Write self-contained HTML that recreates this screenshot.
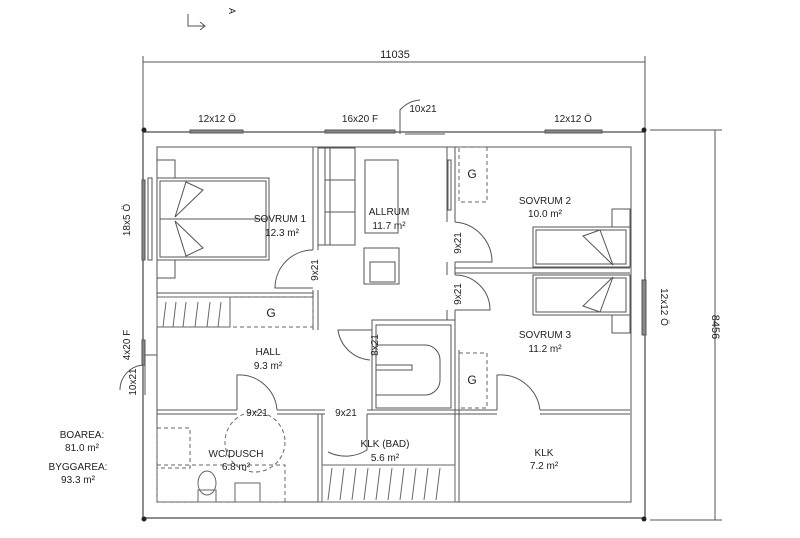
<!DOCTYPE html>
<html><head><meta charset="utf-8"><style>
html,body{margin:0;padding:0;background:#fff}
svg{display:block}
text{font-family:"Liberation Sans",sans-serif;fill:#222}
</style></head><body>
<svg width="800" height="538" viewBox="0 0 800 538" xmlns="http://www.w3.org/2000/svg">
<g stroke="#555" fill="none" stroke-width="1">
<!-- north arrow -->
<path d="M188 14 V26 H205"/><path d="M200 22 L205 26 L200 30"/>
<!-- dimension lines -->
<line x1="143" y1="62" x2="645" y2="62"/>
<line x1="143" y1="56" x2="143" y2="130"/><line x1="645" y1="56" x2="645" y2="130"/>
<line x1="715" y1="130" x2="715" y2="520"/>
<line x1="650" y1="130" x2="722" y2="130"/><line x1="650" y1="520" x2="722" y2="520"/>
<!-- outer wall -->
<rect x="143" y="132" width="502" height="386" stroke="#444" stroke-width="1.2"/>
<rect x="157" y="147" width="474" height="355"/>
<!-- top windows -->
<rect x="190" y="130" width="53" height="3" fill="#888"/>
<rect x="325" y="130" width="70" height="3" fill="#888"/>
<rect x="545" y="130" width="57" height="3" fill="#888"/>
<path d="M400 134 V110 A30 30 0 0 1 420 100"/><line x1="405" y1="134" x2="445" y2="134"/>
<!-- left window/door -->
<rect x="142" y="180" width="3" height="80" fill="#888"/>
<rect x="142" y="340" width="3" height="25" fill="#888"/>
<path d="M157 355 H145 V395"/><path d="M145 365 A25 25 0 0 0 120 390"/>
<rect x="642" y="280" width="4" height="55" fill="#888"/>
<!-- interior walls -->
<path d="M313 147 V250 M318 147 V250 M313 290 V330 M318 290 V330"/>
<path d="M157 293 H313 M157 297 H313"/>
<path d="M447 147 V222 M455 147 V222 M447 262 V275 M455 262 V275 M447 310 V320 M455 310 V320"/>
<path d="M455 268 H630 M455 273 H630"/>
<rect x="372" y="320" width="83" height="90"/>
<rect x="376" y="325" width="75" height="83"/>
<path d="M376 345 H425 A15 15 0 0 1 440 360 V380 A15 15 0 0 1 425 395 H376"/>
<path d="M376 365 H412 V370 H376"/>
<path d="M157 410 H237 M277 410 H325 M367 410 H372 M455 410 H497 M540 410 H630"/>
<path d="M157 414 H237 M277 414 H325 M367 414 H497 M540 414 H630"/>
<path d="M318 414 V502 M322 414 V502 M455 320 V502 M459 350 V502"/>
<!-- doors -->
<path d="M313 250 A38 38 0 0 0 275 288 H313"/>
<path d="M455 222 A40 40 0 0 1 492 262 H455"/>
<path d="M455 275 A35 35 0 0 1 490 310 H455"/>
<path d="M237 410 V375 A38 38 0 0 1 277 410"/>
<path d="M367 414 V450 A40 40 0 0 1 328 452" />
<path d="M497 410 V375 A40 40 0 0 1 540 410"/>
<path d="M372 330 H338 A35 35 0 0 0 370 360"/>
<!-- beds -->
<rect x="157" y="178" width="112" height="82"/><rect x="160" y="181" width="106" height="76"/>
<path d="M160 219 H266"/>
<path d="M175 217 L186 182 L203 190 Z M175 221 L186 256 L203 248 Z"/>
<rect x="157" y="160" width="18" height="18"/><rect x="157" y="260" width="18" height="18"/>
<rect x="148" y="178" width="4" height="82"/>
<rect x="533" y="227" width="97" height="40"/><rect x="536" y="230" width="90" height="34"/>
<rect x="533" y="275" width="97" height="40"/><rect x="536" y="278" width="90" height="34"/>
<path d="M613 265 L600 230 L583 236 Z M613 277 L600 312 L583 306 Z"/>
<rect x="612" y="209" width="18" height="18"/><rect x="612" y="315" width="18" height="18"/>
<!-- allrum furniture -->
<rect x="318" y="148" width="37" height="97"/><line x1="325" y1="148" x2="325" y2="245"/><line x1="330" y1="148" x2="330" y2="245"/>
<line x1="325" y1="180" x2="355" y2="180"/><line x1="325" y1="212" x2="355" y2="212"/>
<rect x="365" y="160" width="33" height="73"/>
<rect x="364" y="248" width="35" height="36"/><rect x="370" y="262" width="25" height="20"/>
<rect x="448" y="160" width="3" height="50"/>
</g>
<!-- dashed closets -->
<g stroke="#666" fill="none" stroke-dasharray="4,3">
<rect x="230" y="297" width="83" height="30"/>
<rect x="459" y="147" width="28" height="55"/>
<rect x="459" y="353" width="28" height="55"/>
<rect x="157" y="428" width="33" height="40"/><rect x="157" y="465" width="128" height="37"/>
<circle cx="255" cy="442" r="30"/>
</g>
<g stroke="#666" fill="none">
<rect x="157" y="297" width="73" height="30"/>
<path d="M163 327 L166 302 M173 327 L176 302 M183 327 L186 302 M195 327 L198 302 M207 327 L210 302 M218 327 L221 302"/>
<rect x="322" y="465" width="133" height="37"/>
<path d="M328 500 L332 468 M340 500 L344 468 M352 500 L356 468 M364 500 L368 468 M376 500 L380 468 M388 500 L392 468 M400 500 L404 468 M412 500 L416 468 M424 500 L428 468 M436 500 L440 468"/>
<ellipse cx="207" cy="483" rx="9" ry="12"/><rect x="198" y="490" width="18" height="12"/>
<rect x="235" y="483" width="25" height="19"/>
</g>
<g fill="#222">
<circle cx="144" cy="130" r="2.5"/><circle cx="644" cy="130" r="2.5"/><circle cx="144" cy="519" r="2.5"/><circle cx="644" cy="519" r="2.5"/>
</g>
<g font-size="10" text-anchor="middle">
<text x="229" y="11" font-size="9" transform="rotate(90 229 11)">A</text>
<text x="395" y="58" font-size="11">11035</text>
<text x="712" y="327" font-size="11" transform="rotate(90 712 327)">8456</text>
<text x="217" y="122">12x12 Ö</text>
<text x="360" y="122">16x20 F</text>
<text x="423" y="112">10x21</text>
<text x="573" y="122">12x12 Ö</text>
<text x="130" y="220" transform="rotate(-90 130 220)">18x5 Ö</text>
<text x="130" y="345" transform="rotate(-90 130 345)">4x20 F</text>
<text x="136" y="382" transform="rotate(-90 136 382)">10x21</text>
<text x="661" y="307" transform="rotate(90 661 307)">12x12 Ö</text>
<text x="280" y="222">SOVRUM 1</text><text x="282" y="236">12.3 m²</text>
<text x="389" y="215">ALLRUM</text><text x="389" y="229">11.7 m²</text>
<text x="545" y="204">SOVRUM 2</text><text x="545" y="217">10.0 m²</text>
<text x="545" y="338">SOVRUM 3</text><text x="545" y="352">11.2 m²</text>
<text x="268" y="355">HALL</text><text x="268" y="369">9.3 m²</text>
<text x="236" y="457">WC/DUSCH</text><text x="236" y="470">6.8 m²</text>
<text x="385" y="447">KLK (BAD)</text><text x="385" y="461">5.6 m²</text>
<text x="544" y="456">KLK</text><text x="544" y="469">7.2 m²</text>
<text x="257" y="416">9x21</text><text x="346" y="416">9x21</text>
<text x="318" y="270" transform="rotate(-90 318 270)">9x21</text>
<text x="461" y="243" transform="rotate(-90 461 243)">9x21</text>
<text x="461" y="294" transform="rotate(-90 461 294)">9x21</text>
<text x="378" y="345" transform="rotate(-90 378 345)">8x21</text>
<text x="82" y="438">BOAREA:</text><text x="82" y="451">81.0 m²</text>
<text x="78" y="470">BYGGAREA:</text><text x="78" y="483">93.3 m²</text>
<text x="271" y="317" font-size="12">G</text>
<text x="472" y="178" font-size="12">G</text>
<text x="472" y="384" font-size="12">G</text>
</g>
</svg>
</body></html>
